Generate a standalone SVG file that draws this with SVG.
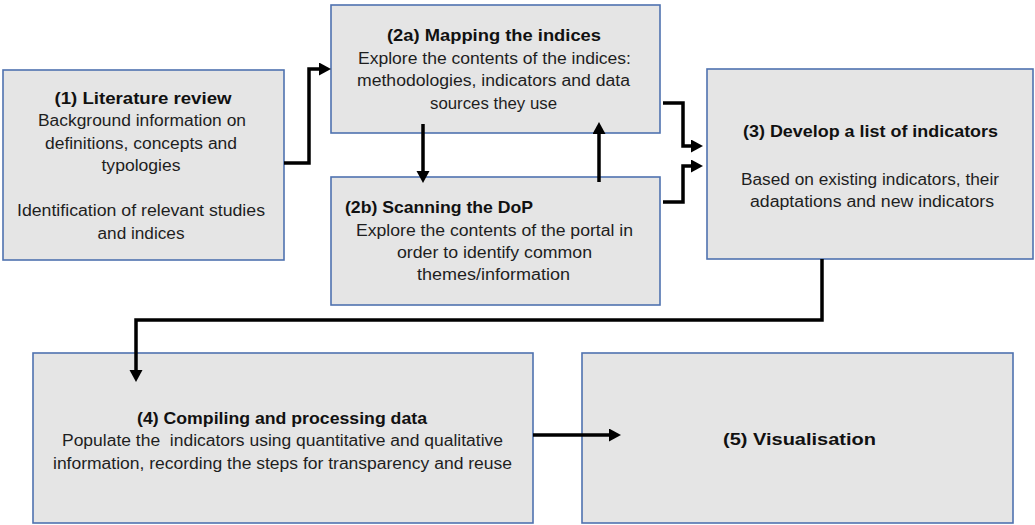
<svg xmlns="http://www.w3.org/2000/svg" width="1035" height="525" viewBox="0 0 1035 525">
<defs>
<style>
.box{fill:#e5e5e5;stroke:#4f72b0;stroke-width:1.6}
.t{font-family:"Liberation Sans",Arial,sans-serif;font-size:16px;fill:#1e1e1e;text-anchor:middle}
.b{font-weight:bold;font-size:16.5px;fill:#111}
.c{fill:none;stroke:#000;stroke-width:3.5;marker-end:url(#ah)}
</style>
<marker id="ah" markerUnits="userSpaceOnUse" markerWidth="14" markerHeight="14" refX="4" refY="6.5" orient="auto">
<path d="M0,0 L12,6.5 L0,13 z" fill="#000"/>
</marker>
</defs>
<rect width="1035" height="525" fill="#fff"/>

<g id="n1">
<rect class="box" x="3" y="70" width="281" height="190"/>
<text class="t b" x="143" y="104" textLength="177" lengthAdjust="spacingAndGlyphs">(1) Literature review</text>
<text class="t" x="142" y="126" textLength="208" lengthAdjust="spacingAndGlyphs">Background information on</text>
<text class="t" x="141" y="148.5" textLength="192" lengthAdjust="spacingAndGlyphs">definitions, concepts and</text>
<text class="t" x="141" y="171" textLength="79" lengthAdjust="spacingAndGlyphs">typologies</text>
<text class="t" x="141" y="216" textLength="248" lengthAdjust="spacingAndGlyphs">Identification of relevant studies</text>
<text class="t" x="141" y="238.5" textLength="87" lengthAdjust="spacingAndGlyphs">and indices</text>
</g>

<g id="n2a">
<rect class="box" x="331" y="5" width="329" height="128"/>
<text class="t b" x="494" y="41" textLength="214" lengthAdjust="spacingAndGlyphs">(2a) Mapping the indices</text>
<text class="t" x="494.5" y="64" textLength="273" lengthAdjust="spacingAndGlyphs">Explore the contents of the indices:</text>
<text class="t" x="493.5" y="86" textLength="273" lengthAdjust="spacingAndGlyphs">methodologies, indicators and data</text>
<text class="t" x="493.5" y="108.5" textLength="127" lengthAdjust="spacingAndGlyphs">sources they use</text>
</g>

<g id="n2b">
<rect class="box" x="331" y="177" width="329" height="128"/>
<text class="t b" x="439" y="213" textLength="188" lengthAdjust="spacingAndGlyphs">(2b) Scanning the DoP</text>
<text class="t" x="494.5" y="236" textLength="277" lengthAdjust="spacingAndGlyphs">Explore the contents of the portal in</text>
<text class="t" x="494.5" y="258" textLength="195" lengthAdjust="spacingAndGlyphs">order to identify common</text>
<text class="t" x="493.5" y="280" textLength="153" lengthAdjust="spacingAndGlyphs">themes/information</text>
</g>

<g id="n3">
<rect class="box" x="707" y="69" width="326" height="190"/>
<text class="t b" x="870.5" y="137" textLength="255" lengthAdjust="spacingAndGlyphs">(3) Develop a list of indicators</text>
<text class="t" x="870" y="185" textLength="258" lengthAdjust="spacingAndGlyphs">Based on existing indicators, their</text>
<text class="t" x="872" y="207" textLength="244" lengthAdjust="spacingAndGlyphs">adaptations and new indicators</text>
</g>

<g id="n4">
<rect class="box" x="33" y="353" width="500" height="170"/>
<text class="t b" x="282" y="424" textLength="290" lengthAdjust="spacingAndGlyphs">(4) Compiling and processing data</text>
<text class="t" x="282.5" y="446" textLength="441" lengthAdjust="spacingAndGlyphs" style="white-space:pre" xml:space="preserve">Populate the  indicators using quantitative and qualitative</text>
<text class="t" x="282.5" y="469" textLength="459" lengthAdjust="spacingAndGlyphs">information, recording the steps for transparency and reuse</text>
</g>

<g id="n5">
<rect class="box" x="582" y="353" width="431" height="170"/>
<text class="t b" x="799.5" y="445" textLength="153" lengthAdjust="spacingAndGlyphs">(5) Visualisation</text>
</g>

<g id="connectors">
<path class="c" d="M284,163 H309 V69 H323"/>
<path class="c" d="M423,124 V175"/>
<path class="c" d="M599,182 V130"/>
<path class="c" d="M663,103 H683 V146 H695"/>
<path class="c" d="M663,202 H683 V166 H695"/>
<path class="c" d="M822,259 V320 H136 V374"/>
<path class="c" d="M533,435 H613"/>
</g>
</svg>
